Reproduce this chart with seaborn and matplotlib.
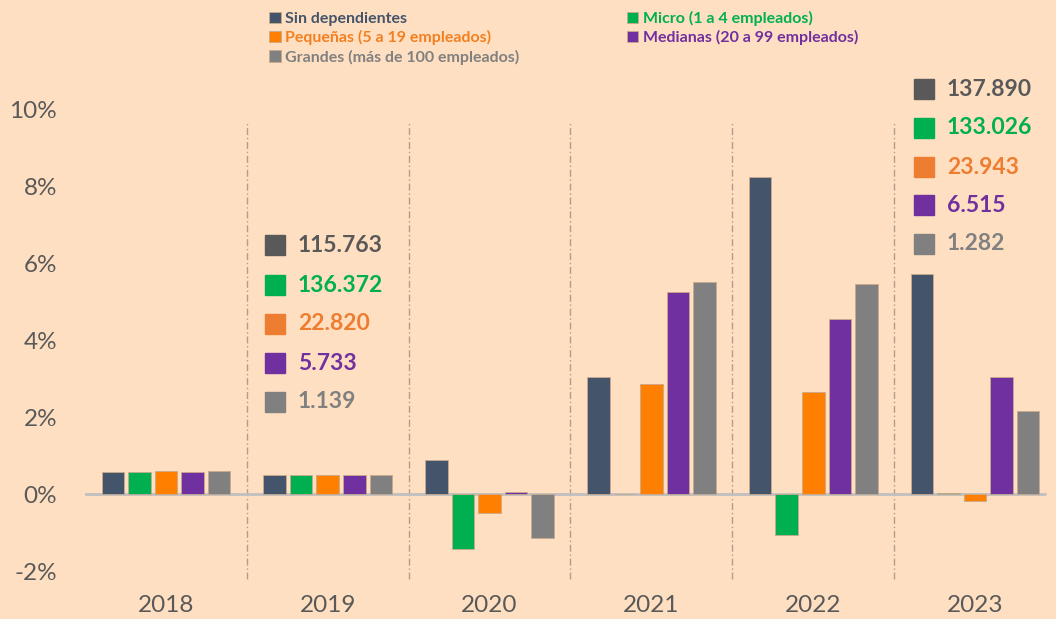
import numpy as np
import pandas as pd
import matplotlib
matplotlib.use("Agg")
import matplotlib.pyplot as plt
from matplotlib.patches import Rectangle
import seaborn as sns

years = ["2018", "2019", "2020", "2021", "2022", "2023"]
sizes = ["Sin dependientes", "Micro (1 a 4 empleados)", "Pequeñas (5 a 19 empleados)",
         "Medianas (20 a 99 empleados)", "Grandes (más de 100 empleados)"]
sin_dep = [0.57, 0.50, 0.89, 3.06, 8.26, 5.74]
micro = [0.57, 0.50, -1.42, 0.0, -1.07, 0.03]
pequenas = [0.60, 0.50, -0.49, 2.86, 2.67, -0.17]
medianas = [0.57, 0.50, 0.07, 5.27, 4.57, 3.06]
grandes = [0.61, 0.50, -1.13, 5.53, 5.48, 2.16]
counts_2019 = ["115.763", "136.372", "22.820", "5.733", "1.139"]
counts_2023 = ["137.890", "133.026", "23.943", "6.515", "1.282"]

bar_colors = ["#44546A", "#00B050", "#FF8000", "#7030A0", "#808080"]
text_colors = ["#44546A", "#00B050", "#F47F20", "#7030A0", "#808080"]
box_colors = ["#595959", "#00B050", "#ED7D31", "#7030A0", "#808080"]
bg = "#FFDFC1"
W, H = 1056, 619

df = pd.DataFrame({
    "year": np.tile(years, 5),
    "size": np.repeat(sizes, 6),
    "value": sin_dep + micro + pequenas + medianas + grandes,
})

sns.set_style("white")
plt.rcParams["font.family"] = ["Lato", "DejaVu Sans"]

fig = plt.figure(figsize=(W / 100, H / 100), dpi=100, facecolor=bg)
ax = fig.add_axes([85 / W, (H - 588) / H, (W - 85) / W, (588 - 60) / H])
ax.set_facecolor(bg)

sns.barplot(data=df, x="year", y="value", hue="size", hue_order=sizes,
            palette=bar_colors, width=0.82, gap=0.15, saturation=1,
            edgecolor="#C9A98C", linewidth=0.6, ax=ax)

ax.set_xlim(-0.5, 5.5)
ax.set_ylim(-2.44, 11.3)
ax.axhline(0, xmin=0, xmax=0.989, color="#BFBFBF", lw=2, zorder=0.5)
ax.vlines(np.arange(5) + 0.5, -2.2, 9.65, colors="#B29C8A", lw=1,
          linestyles=(0, (5, 2, 1, 2)), zorder=0.4)

for s in ax.spines.values():
    s.set_visible(False)
yt = list(range(-2, 11, 2))
ax.set_yticks(yt)
ax.set_yticklabels([f"{v}%" for v in yt])
ax.tick_params(axis="y", length=0, pad=20, labelsize=17.5, labelcolor="#595959")
ax.tick_params(axis="x", length=0, pad=5, labelsize=17.5, labelcolor="#595959")
ax.set_xlabel("")
ax.set_ylabel("")

# legend: two columns, row order Sin/Micro, Pequeñas/Medianas, Grandes
handles, labels = ax.get_legend_handles_labels()
order = [0, 2, 4, 1, 3]
ax.get_legend().remove()
leg = fig.legend([handles[i] for i in order], [labels[i] for i in order],
                 loc="upper left", bbox_to_anchor=(255 / W, 1 + 3 / H), ncol=2,
                 frameon=False, handlelength=0.7, handleheight=0.7, handletextpad=0.3,
                 labelspacing=0.25, columnspacing=6.7,
                 prop={"weight": "bold", "size": 11.5})
for txt, i in zip(leg.get_texts(), order):
    txt.set_color(text_colors[i])


def count_box(x0, y_rows, values):
    for yc, val, col in zip(y_rows, values, box_colors):
        fig.add_artist(Rectangle((x0 / W, 1 - (yc + 10) / H), 20 / W, 20 / H,
                                 transform=fig.transFigure, color=col))
        fig.text((x0 + 33) / W, 1 - yc / H, val, color=col, fontsize=16.5,
                 fontweight="bold", va="center", ha="left")


count_box(265, [245, 285, 324, 363, 402], counts_2019)
count_box(914, [89, 128, 167, 205, 244], counts_2023)

fig.savefig("out.png", dpi=100, facecolor=bg)
